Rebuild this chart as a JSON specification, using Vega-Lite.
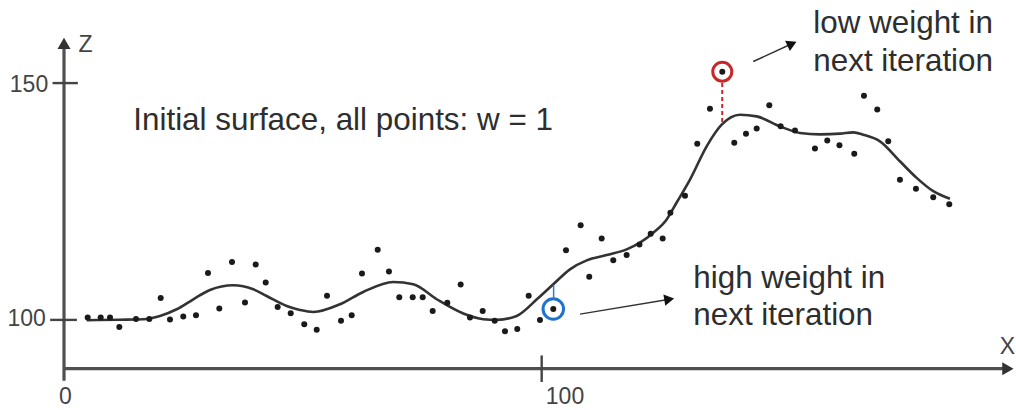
{
  "$schema": "https://vega.github.io/schema/vega-lite/v6.json",
  "width": 1016,
  "height": 410,
  "padding": 0,
  "autosize": {"type": "fit", "contains": "padding"},
  "background": "white",
  "config": {"view": {"stroke": null}, "text": {"font": "Liberation Sans", "color": "#2e2e2e"}},
  "datasets": {
    "points": [
      {"x":4.96,"z":100.5},{"x":7.68,"z":100.5},{"x":9.63,"z":100.5},{"x":11.58,"z":98.5},{"x":15.07,"z":100.2},{"x":17.86,"z":100.2},{"x":20.24,"z":104.6},{"x":22.19,"z":100.1},{"x":24.97,"z":100.7},{"x":27.63,"z":101.0},{"x":30.14,"z":109.9},{"x":32.51,"z":102.4},{"x":35.17,"z":112.2},{"x":37.89,"z":103.7},{"x":40.13,"z":111.7},{"x":42.22,"z":107.9},{"x":44.73,"z":102.7},{"x":47.46,"z":101.4},{"x":50.3,"z":99.1},{"x":52.9,"z":97.9},{"x":55.06,"z":105.1},{"x":57.99,"z":99.8},{"x":60.23,"z":101.0},{"x":62.38,"z":109.8},{"x":65.67,"z":114.8},{"x":68.03,"z":110.2},{"x":70.19,"z":104.8},{"x":73.0,"z":104.8},{"x":75.09,"z":104.8},{"x":77.18,"z":101.9},{"x":80.24,"z":103.6},{"x":83.04,"z":107.5},{"x":84.99,"z":100.5},{"x":87.65,"z":101.9},{"x":90.16,"z":99.8},{"x":92.32,"z":97.6},{"x":94.89,"z":98.1},{"x":97.28,"z":105.1},{"x":99.64,"z":100.0},{"x":102.43,"z":102.3},{"x":105.09,"z":114.7},{"x":108.16,"z":120.0},{"x":109.96,"z":109.1},{"x":112.56,"z":117.2},{"x":114.99,"z":112.6},{"x":117.79,"z":113.7},{"x":120.47,"z":115.9},{"x":122.82,"z":118.2},{"x":125.33,"z":117.2},{"x":126.94,"z":122.6},{"x":130.0,"z":126.2},{"x":132.57,"z":137.2},{"x":135.23,"z":144.6},{"x":137.81,"z":152.4},{"x":140.32,"z":137.4},{"x":142.77,"z":139.3},{"x":145.01,"z":140.4},{"x":147.65,"z":145.3},{"x":150.03,"z":140.9},{"x":153.03,"z":140.0},{"x":157.21,"z":136.2},{"x":159.79,"z":137.9},{"x":162.34,"z":136.9},{"x":165.44,"z":135.1},{"x":167.47,"z":147.3},{"x":170.25,"z":144.4},{"x":172.55,"z":137.7},{"x":175.0,"z":129.6},{"x":178.35,"z":127.7},{"x":181.97,"z":125.9},{"x":185.33,"z":124.4}
    ],
    "curve": [
      {"x":4.75,"z":99.94},{"x":11.72,"z":100.04},{"x":16.6,"z":100.15},{"x":20.1,"z":100.84},{"x":23.59,"z":102.25},{"x":27.07,"z":104.36},{"x":30.56,"z":106.32},{"x":35.44,"z":107.31},{"x":39.63,"z":106.47},{"x":42.43,"z":105.05},{"x":46.62,"z":102.95},{"x":49.4,"z":102.11},{"x":52.19,"z":101.68},{"x":57.78,"z":103.31},{"x":62.65,"z":105.9},{"x":68.93,"z":108.0},{"x":73.12,"z":107.52},{"x":78.02,"z":104.36},{"x":83.59,"z":101.35},{"x":87.77,"z":100.15},{"x":90.58,"z":100.0},{"x":94.77,"z":100.84},{"x":99.22,"z":104.57},{"x":102.43,"z":107.52},{"x":105.92,"z":110.68},{"x":109.42,"z":112.57},{"x":113.6,"z":113.69},{"x":117.79,"z":114.89},{"x":120.58,"z":116.3},{"x":123.36,"z":118.41},{"x":126.17,"z":121.21},{"x":128.26,"z":124.79},{"x":131.05,"z":129.63},{"x":134.54,"z":136.65},{"x":137.68,"z":141.22},{"x":141.52,"z":143.32},{"x":145.01,"z":142.97},{"x":149.89,"z":140.86},{"x":154.08,"z":139.47},{"x":158.27,"z":139.17},{"x":162.45,"z":139.32},{"x":165.24,"z":139.6},{"x":167.33,"z":139.11},{"x":170.82,"z":137.7},{"x":175.0,"z":133.49},{"x":178.5,"z":129.99},{"x":181.98,"z":127.17},{"x":185.47,"z":125.57}
    ]
  },
  "encoding": {
    "x": {"field": "x", "type": "quantitative", "axis": null, "scale": {"domain": [-13.4, 199.3], "nice": false, "zero": false}},
    "y": {"field": "z", "type": "quantitative", "axis": null, "scale": {"domain": [81.19, 167.54], "nice": false, "zero": false}}
  },
  "layer": [
    {
      "data": {"values": [{"x": 0, "x2": 0, "z": 87.15, "z2": 158.6}, {"x": 0, "x2": 196.8, "z": 89.7, "z2": 89.7}]},
      "mark": {"type": "rule", "color": "#505050", "strokeWidth": 3.2},
      "encoding": {"x2": {"field": "x2"}, "y2": {"field": "z2"}}
    },
    {
      "data": {"values": [{"x": -2.4, "x2": 2.9, "z": 150, "z2": 150}, {"x": -2.9, "x2": 2.7, "z": 100, "z2": 100}, {"x": 100, "x2": 100, "z": 86.9, "z2": 92.5}]},
      "mark": {"type": "rule", "color": "#444444", "strokeWidth": 2.4},
      "encoding": {"x2": {"field": "x2"}, "y2": {"field": "z2"}}
    },
    {
      "data": {"values": [{"x": 0, "z": 158.4}]},
      "mark": {"type": "point", "shape": "triangle-up", "filled": true, "color": "#333333", "size": 170, "opacity": 1}
    },
    {
      "data": {"values": [{"x": 197.6, "z": 89.7}]},
      "mark": {"type": "point", "shape": "triangle-right", "filled": true, "color": "#333333", "size": 170, "opacity": 1}
    },
    {
      "data": {"values": [{"x": 144.29, "x2": 152.6, "z": 154.55, "z2": 158.4}, {"x": 108.02, "x2": 126.8, "z": 101.22, "z2": 104.35}]},
      "mark": {"type": "rule", "color": "#333333", "strokeWidth": 1.5},
      "encoding": {"x2": {"field": "x2"}, "y2": {"field": "z2"}}
    },
    {
      "data": {"values": [{"x": 152.4, "z": 158.3}]},
      "mark": {"type": "point", "shape": "triangle-right", "filled": true, "color": "#111111", "size": 130, "angle": 335.3, "opacity": 1}
    },
    {
      "data": {"values": [{"x": 126.7, "z": 104.35}]},
      "mark": {"type": "point", "shape": "triangle-right", "filled": true, "color": "#111111", "size": 130, "angle": 350.4, "opacity": 1}
    },
    {
      "data": {"name": "curve"},
      "mark": {"type": "line", "color": "#333333", "strokeWidth": 2.6, "interpolate": "monotone"}
    },
    {
      "data": {"values": [{"x": 137.8, "x2": 137.8, "z": 150.0, "z2": 141.2}]},
      "mark": {"type": "rule", "color": "#c62828", "strokeWidth": 2, "strokeDash": [4, 3]},
      "encoding": {"x2": {"field": "x2"}, "y2": {"field": "z2"}}
    },
    {
      "data": {"values": [{"x": 102.5, "x2": 102.5, "z": 104.7, "z2": 107.4}]},
      "mark": {"type": "rule", "color": "#2a7bd0", "strokeWidth": 1.5},
      "encoding": {"x2": {"field": "x2"}, "y2": {"field": "z2"}}
    },
    {
      "data": {"values": [{"x": 137.81, "z": 152.4}]},
      "mark": {"type": "point", "shape": "circle", "filled": false, "color": "#c62828", "strokeWidth": 3, "size": 361, "opacity": 1}
    },
    {
      "data": {"values": [{"x": 102.43, "z": 102.3}]},
      "mark": {"type": "point", "shape": "circle", "filled": false, "color": "#1f73cc", "strokeWidth": 3, "size": 420, "opacity": 1}
    },
    {
      "data": {"name": "points"},
      "mark": {"type": "circle", "color": "#1a1a1a", "size": 36, "opacity": 1}
    },
    {
      "data": {"values": [
        {"x": 14.5, "z": 140.06, "text": "Initial surface, all points: w = 1"},
        {"x": 156.86, "z": 160.53, "text": "low weight in"},
        {"x": 156.86, "z": 152.59, "text": "next iteration"},
        {"x": 131.74, "z": 106.82, "text": "high weight in"},
        {"x": 131.74, "z": 98.88, "text": "next iteration"}
      ]},
      "mark": {"type": "text", "align": "left", "baseline": "alphabetic", "fontSize": 31.4},
      "encoding": {"text": {"field": "text"}}
    },
    {
      "data": {"values": [
        {"x": 4.5, "z": 158.07, "text": "Z"},
        {"x": -7.33, "z": 149.64, "text": "150"},
        {"x": -7.81, "z": 100.25, "text": "100"},
        {"x": 0.31, "z": 83.66, "text": "0"},
        {"x": 104.88, "z": 83.82, "text": "100"},
        {"x": 197.5, "z": 94.25, "text": "X"}
      ]},
      "mark": {"type": "text", "align": "center", "baseline": "middle", "fontSize": 23, "color": "#444444"},
      "encoding": {"text": {"field": "text"}}
    }
  ]
}
